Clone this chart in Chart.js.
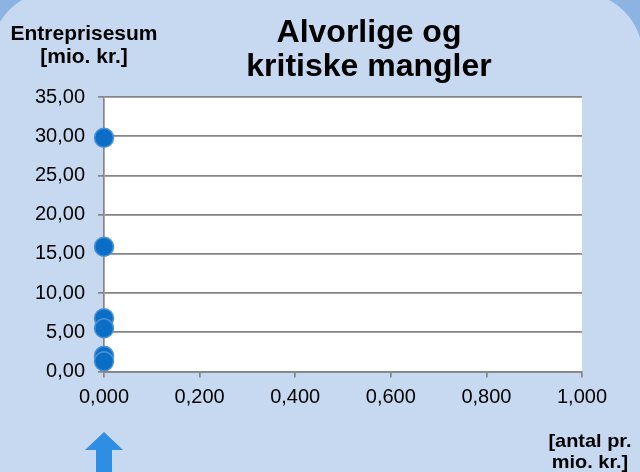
<!DOCTYPE html>
<html lang="da">
<head>
<meta charset="utf-8">
<title>Alvorlige og kritiske mangler</title>
<script src="https://cdn.jsdelivr.net/npm/chart.js@4.4.1/dist/chart.umd.min.js"></script>
<style>
    html, body {
        margin: 0;
        padding: 0;
        width: 640px;
        height: 472px;
        overflow: hidden;
        background: #8db3e2;
    }
    .panel {
        position: absolute;
        left: -8px;
        top: -8px;
        right: -3px;
        bottom: -30px;
        background: #c6d9f1;
        border-top-left-radius: 60px;
        border-top-right-radius: 65px;
    }
    #chart {
        position: absolute;
        left: 0;
        top: 0;
    }
</style>
</head>
<body>
<div class="panel"></div>
<canvas id="chart" width="640" height="472"></canvas>

<script>
// data
const xValues = [0, 0, 0, 0, 0, 0];
const yValues = [29.8, 15.9, 6.8, 5.5, 2.0, 1.3];
const xTickValues = [0, 0.2, 0.4, 0.6, 0.8, 1.0];
const yTickValues = [0, 5, 10, 15, 20, 25, 30, 35];
const titleLines = ['Alvorlige og', 'kritiske mangler'];
const yTitleLines = ['Entreprisesum', '[mio. kr.]'];
const xTitleLines = ['[antal pr.', 'mio. kr.]'];

(function(){
    "use strict";

    const fontFamily = "'Liberation Sans', Arial, sans-serif";
    const gridColor = '#858585';

    // comma decimals like the danish excel chart
    function fmt(v, digits) {
        return Number(v).toFixed(digits).replace('.', ',');
    }

    // bold centred text, sx lets it be a bit wider than plain Arial
    function boldText(ctx, text, x, y, size, sx) {
        ctx.save();
        ctx.font = 'bold ' + size + 'px ' + fontFamily;
        ctx.translate(x, y);
        ctx.scale(sx, 1);
        ctx.textAlign = 'center';
        ctx.textBaseline = 'alphabetic';
        ctx.fillStyle = '#000';
        ctx.fillText(text, 0, 0);
        ctx.restore();
    }

    const decorPlugin = {
        id: 'decor',
        beforeDraw(chart) {
            const a = chart.chartArea;
            const ctx = chart.ctx;
            ctx.save();
            ctx.fillStyle = '#ffffff';
            ctx.fillRect(a.left, a.top, a.right - a.left, a.bottom - a.top);
            ctx.restore();
        },
        afterDraw(chart) {
            const ctx = chart.ctx;

            // titles
            boldText(ctx, titleLines[0], 369, 42, 32, 1);
            boldText(ctx, titleLines[1], 369, 76, 32, 1);
            boldText(ctx, yTitleLines[0], 84, 40, 20, 1.05);
            boldText(ctx, yTitleLines[1], 84, 63, 20, 1.05);
            boldText(ctx, xTitleLines[0], 590, 447, 19, 1.05);
            boldText(ctx, xTitleLines[1], 590, 468, 19, 1.05);

            // arrow pointing up at x = 0
            const ax = chart.scales.x.getPixelForValue(xTickValues[0]);
            ctx.save();
            ctx.fillStyle = '#2e8ee4';
            ctx.beginPath();
            ctx.moveTo(ax, 432);
            ctx.lineTo(ax + 19, 450);
            ctx.lineTo(ax + 8, 450);
            ctx.lineTo(ax + 8, 480);
            ctx.lineTo(ax - 8, 480);
            ctx.lineTo(ax - 8, 450);
            ctx.lineTo(ax - 19, 450);
            ctx.closePath();
            ctx.fill();
            ctx.restore();
        }
    };

    const points = xValues.map(function(x, i){
        return { x: x, y: yValues[i] };
    });

    new Chart(document.getElementById('chart'), {
        type: 'scatter',
        data: {
            datasets: [{
                data: points,
                backgroundColor: '#0a6ec6',
                borderColor: '#4c92d6',
                borderWidth: 1.5,
                pointRadius: 9.5,
                clip: false
            }]
        },
        options: {
            responsive: false,
            animation: false,
            devicePixelRatio: 1,
            layout: {
                padding: { top: 97, right: 58, left: 0, bottom: 0 }
            },
            plugins: {
                legend: { display: false },
                tooltip: { enabled: false },
                title: { display: false }
            },
            scales: {
                x: {
                    type: 'linear',
                    min: 0,
                    max: 1,
                    afterBuildTicks: function(scale) {
                        scale.ticks = xTickValues.map(v => ({ value: v }));
                    },
                    afterFit: function(scale) {
                        scale.height = 100.5;
                    },
                    ticks: {
                        color: '#000',
                        padding: 8,
                        maxRotation: 0,
                        font: { family: fontFamily, size: 20 },
                        callback: v => fmt(v, 3)
                    },
                    grid: {
                        drawOnChartArea: false,
                        color: gridColor,
                        lineWidth: 1.7,
                        tickLength: 6
                    },
                    border: { color: gridColor, width: 1.7 }
                },
                y: {
                    type: 'linear',
                    min: 0,
                    max: 35,
                    afterBuildTicks: function(scale) {
                        scale.ticks = yTickValues.map(v => ({ value: v }));
                    },
                    afterFit: function(scale) {
                        scale.width = 104;
                    },
                    ticks: {
                        color: '#000',
                        padding: 13,
                        font: { family: fontFamily, size: 20 },
                        callback: v => fmt(v, 2)
                    },
                    grid: {
                        color: gridColor,
                        lineWidth: 1.7,
                        tickLength: 6
                    },
                    border: { color: gridColor, width: 1.7 }
                }
            }
        },
        plugins: [decorPlugin]
    });
})();
</script>
</body>
</html>
